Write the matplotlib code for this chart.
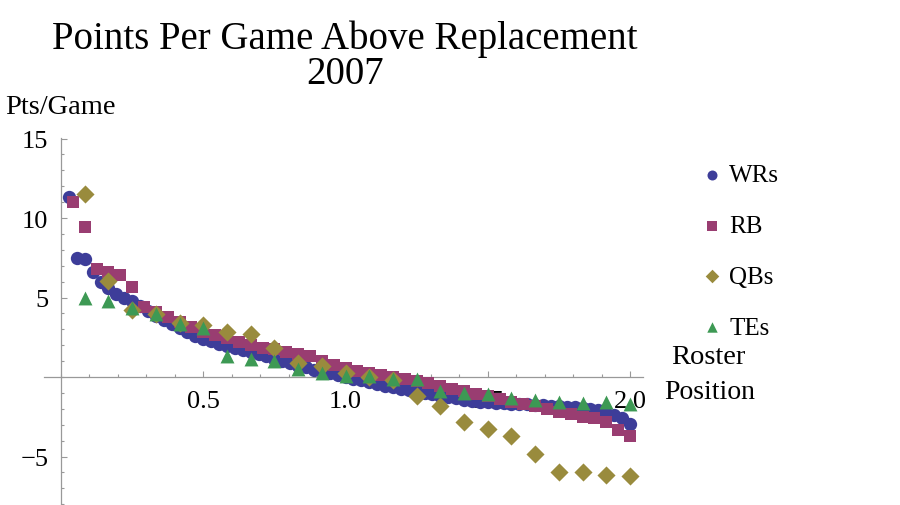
import numpy as np
import matplotlib
matplotlib.use('Agg')
import matplotlib.pyplot as plt
from matplotlib.ticker import MultipleLocator, FixedLocator

plt.rcParams['font.family'] = ['Liberation Serif', 'DejaVu Serif']

# 포지션별 대체선수 대비 경기당 득점 (2007)
wr_pts = [11.3, 7.5, 7.45, 6.6, 6.0, 5.6, 5.25, 5.0, 4.75, 4.45, 4.15, 3.85,
          3.6, 3.35, 3.1, 2.85, 2.6, 2.4, 2.25, 2.1, 1.95, 1.85, 1.72, 1.6,
          1.45, 1.3, 1.15, 1.0, 0.85, 0.7, 0.6, 0.45, 0.35, 0.25, 0.1, 0.0,
          -0.1, -0.2, -0.3, -0.45, -0.55, -0.65, -0.75, -0.8, -0.9, -1.0, -1.1, -1.2,
          -1.25, -1.35, -1.45, -1.5, -1.55, -1.6, -1.62, -1.65, -1.68, -1.7, -1.72, -1.75,
          -1.78, -1.8, -1.83, -1.86, -1.9, -1.95, -2.0, -2.1, -2.25, -2.4, -2.6, -2.95]
rb_pts = [11.0, 9.45, 6.8, 6.6, 6.4, 5.65, 4.4, 4.1, 3.75, 3.45, 3.15, 2.85,
          2.65, 2.45, 2.2, 2.0, 1.85, 1.75, 1.6, 1.45, 1.3, 1.0, 0.75, 0.55,
          0.4, 0.25, 0.1, 0.0, -0.1, -0.25, -0.4, -0.55, -0.75, -0.9, -1.05, -1.2,
          -1.4, -1.55, -1.7, -1.85, -2.0, -2.2, -2.35, -2.5, -2.6, -2.8, -3.35, -3.7]
qb_pts = [11.5, 6.05, 4.2, 3.95, 3.4, 3.3, 2.85, 2.7, 1.8, 0.9, 0.7, 0.25,
          0.0, -0.2, -1.2, -1.8, -2.8, -3.3, -3.7, -4.85, -6.0, -6.0, -6.15, -6.2]
te_pts = [5.0, 4.75, 4.35, 3.95, 3.35, 3.1, 1.35, 1.15, 1.0, 0.5, 0.25, 0.05,
          0.05, -0.1, -0.1, -0.85, -1.0, -1.1, -1.3, -1.45, -1.6, -1.65, -1.6, -1.7]

# 로스터 위치 (팀당 순번 / 리그 인원)
wr_x = np.arange(1, len(wr_pts) + 1) / 36
rb_x = np.arange(1, len(rb_pts) + 1) / 24
qb_x = np.arange(1, len(qb_pts) + 1) / 12
te_x = np.arange(1, len(te_pts) + 1) / 12

W, H = 900, 506
fig = plt.figure(figsize=(9, 5.06), dpi=100)

# 축 영역: x=0 -> 61px, x=2 -> 630px, y=0 -> 378px, y=15 -> 139.5px
xmin, xmax = -0.058, 2.045
ymin, ymax = -8.3, 15.02
px_x = (630 - 61) / 2.0
px_y = (378 - 139.5) / 15.0
left = 61 + xmin * px_x
right = 61 + xmax * px_x
top = 378 - ymax * px_y
bottom = 378 - ymin * px_y
ax = fig.add_axes([left / W, 1 - bottom / H, (right - left) / W, (bottom - top) / H])
ax.set_xlim(xmin, xmax)
ax.set_ylim(ymin, ymax)
ax.patch.set_alpha(0)

ax.scatter(wr_x, wr_pts, s=92, marker='o', color=(0.24, 0.24, 0.6), linewidths=0, label='WRs', zorder=3)
ax.scatter(rb_x, rb_pts, s=82, marker='s', color=(0.6, 0.24, 0.442), linewidths=0, label='RB', zorder=4)
ax.scatter(qb_x, qb_pts, s=85, marker='D', color=(0.6, 0.547, 0.24), linewidths=0, label='QBs', zorder=5)
ax.scatter(te_x, te_pts, s=100, marker='^', color=(0.24, 0.6, 0.33), linewidths=0, label='TEs', zorder=6)

for side in ['top', 'right']:
    ax.spines[side].set_visible(False)
ax.spines['left'].set_position(('data', 0))
ax.spines['bottom'].set_position(('data', 0))
for side in ['left', 'bottom']:
    ax.spines[side].set_color('#999999')
    ax.spines[side].set_linewidth(0.9)

ax.xaxis.set_major_locator(FixedLocator([0.5, 1.0, 1.5, 2.0]))
ax.xaxis.set_minor_locator(MultipleLocator(0.1))
ax.yaxis.set_major_locator(FixedLocator([-5, 5, 10, 15]))
ax.yaxis.set_minor_locator(MultipleLocator(1))
ax.set_xticklabels(['0.5', '1.0', '1.5', '2.0'])
ax.set_yticklabels(['\u22125', '5', '10', '15'])
ax.tick_params(which='both', direction='in', color='#999999', width=0.8)
ax.tick_params(which='major', length=4.5)
ax.tick_params(which='minor', length=2.5)
ax.tick_params(axis='x', which='major', labelsize=19, pad=9)
ax.tick_params(axis='y', which='major', labelsize=19, pad=9)

fig.text(345 / W, 1 - 39 / H, 'Points Per Game Above Replacement', ha='center', va='center', fontsize=28)
fig.text(345 / W, 1 - 74 / H, '2007', ha='center', va='center', fontsize=28)
fig.text(60 / W, 1 - 108 / H, 'Pts/Game', ha='center', va='center', fontsize=20.5)
fig.text(708 / W, 1 - 357 / H, 'Roster', ha='center', va='center', fontsize=20.5)
fig.text(710 / W, 1 - 393 / H, 'Position', ha='center', va='center', fontsize=20)

leg = ax.legend(loc='upper left', bbox_to_anchor=(689 / W, 1 - 155 / H), bbox_transform=fig.transFigure,
                frameon=False, fontsize=18, labelspacing=1.13, handletextpad=0.2, handlelength=1.0,
                markerscale=0.75, borderaxespad=0)

fig.savefig('out.png', dpi=100)
